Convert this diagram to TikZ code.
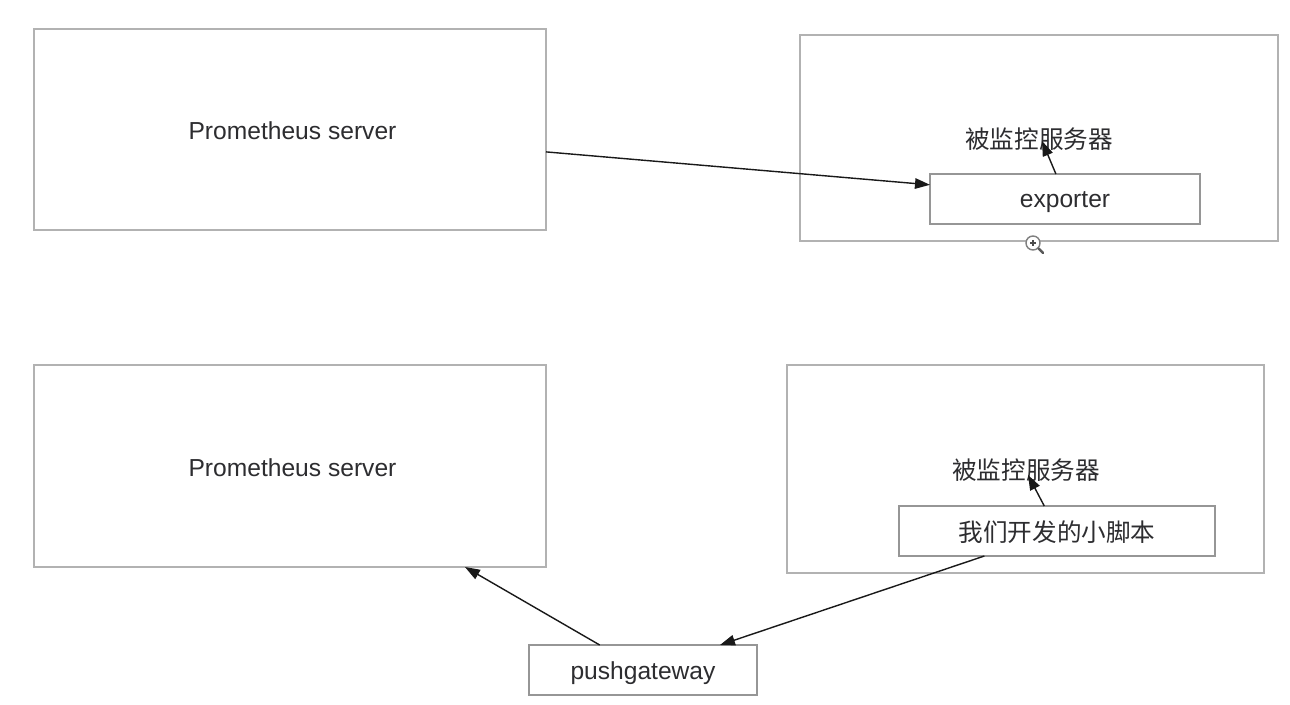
\documentclass[tikz,border=0pt]{standalone}
\usepackage{fontspec}
\setmainfont{Liberation Sans}
\newfontfamily\cjk{Noto Sans CJK SC}
\usetikzlibrary{arrows.meta, positioning}
\definecolor{boxgray}{RGB}{178,178,178}
\definecolor{innergray}{RGB}{150,150,150}
\definecolor{textdark}{RGB}{45,45,48}
\tikzset{
    hostbox/.style={draw=boxgray, line width=0.65pt, fill=white, outer sep=0pt, inner sep=0pt, text=textdark, text depth=0pt, font=\fontsize{14}{16}\selectfont},
    partbox/.style={hostbox, draw=innergray},
    hostlabel/.style={text=textdark, inner sep=0pt, font=\fontsize{14}{16}\selectfont\cjk},
    flow/.style={-{Triangle[length=3mm,width=2.1mm]}, black!90, line width=0.8pt}
}

\begin{document}
\begin{tikzpicture}
    \useasboundingbox (0, 0) rectangle (25.8, 14.08);

    % Exporter setup
    \node[hostbox, text height=0.42cm, minimum width=10.24cm, minimum height=4.02cm] (serverA) at (5.80, 11.49) {\hspace*{0.10cm}Prometheus server};
    \node[hostbox, minimum width=9.56cm, minimum height=4.12cm] (hostA) at (20.78, 11.32) {};
    \node[hostlabel] (hostlabelA) at (20.78, 11.30) {被监控服务器};
    \node[partbox, text height=0.36cm, minimum width=5.40cm, minimum height=1.00cm] (exporter) at (21.30, 10.10) {exporter};

    % Pushgateway setup
    \node[hostbox, text height=0.42cm, minimum width=10.24cm, minimum height=4.04cm] (serverB) at (5.80, 4.76) {\hspace*{0.10cm}Prometheus server};
    \node[hostbox, minimum width=9.54cm, minimum height=4.16cm] (hostB) at (20.51, 4.70) {};
    \node[hostlabel] (hostlabelB) at (20.52, 4.68) {被监控服务器};
    \node[partbox, text height=0.44cm, minimum width=6.32cm, minimum height=1.00cm, font=\fontsize{14}{16}\selectfont\cjk] (script) at (21.14, 3.46) {我们开发的小脚本};
    \node[partbox, text height=0.38cm, minimum width=4.56cm, minimum height=1.00cm] (pushgateway) at (12.86, 0.68) {pushgateway};

    % Connectors
    \draw[flow] (serverA.-5.12) -- (exporter.174.73);
    \draw[flow] (exporter.110.4) -- ([shift={(0.06,-0.04)}]hostlabelA.center);
    \draw[flow] (script.117.9) -- ([shift={(0.04,-0.10)}]hostlabelB.center);
    \draw[flow] (script.199.13) -- (pushgateway.18.2);
    \draw[flow] (pushgateway.150.2) -- (serverB.-30.9);

    % Magnifier icon
    \draw[gray, line width=0.8pt, fill=white] (20.66, 9.22) circle (0.14);
    \draw[gray!70!black, line width=1.4pt, line cap=round] (20.77, 9.11) -- (20.86, 9.02);
    \draw[black!70, line width=0.6pt] (20.60, 9.22) -- (20.72, 9.22) (20.66, 9.16) -- (20.66, 9.28);
\end{tikzpicture}
\end{document}
